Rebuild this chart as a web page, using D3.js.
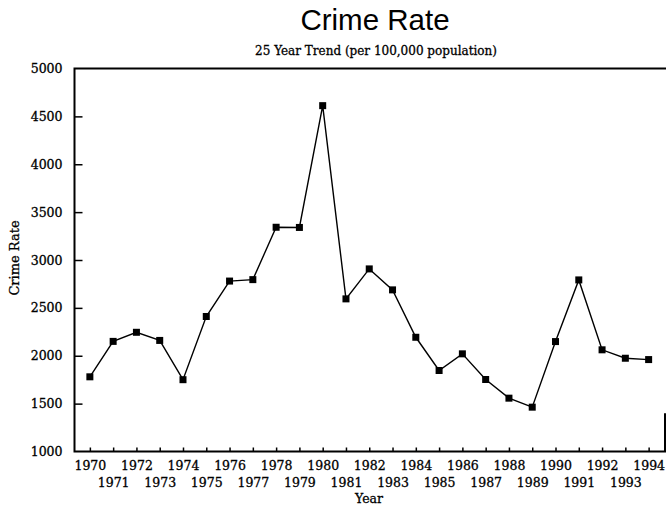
<!DOCTYPE html>
<html lang="en">
<head>
    <meta charset="UTF-8">
    <title>Crime Rate</title>
    <script src="https://d3js.org/d3.v7.min.js"></script>
    <style>
        body {
            margin: 0;
            padding: 0;
            background: #fff;
        }
        svg {
            display: block;
        }
        .serif {
            font-family: "DejaVu Serif", "Liberation Serif", serif;
            fill: #000;
            stroke: #000;
            stroke-width: 0.3px;
        }
        .tick line {
            stroke: #000;
            stroke-width: 1.5px;
        }
    </style>
</head>
<body>
    <div id="chart"></div>
    <script>
        // data
        var years = d3.range(1970, 1995);
        var crimeRate = [1780, 2150, 2245, 2160, 1750, 2410, 2780, 2795, 3342, 3340,
                         4612, 2594, 2907, 2688, 2193, 1846, 2020, 1752, 1557, 1463,
                         2148, 2792, 2062, 1974, 1960];
        var yTicks = [1000, 1500, 2000, 2500, 3000, 3500, 4000, 4500, 5000];

        var w = 666;
        var h = 507;
        var plotLeft = 74.5, plotRight = 665, plotTop = 68.5, plotBottom = 451.5;

        var svg = d3.select("#chart")
            .append("svg")
            .attr("width", w)
            .attr("height", h);

        var x = d3.scalePoint()
            .domain(years)
            .range([plotLeft, plotRight - 1])
            .padding(0.66);

        var y = d3.scaleLinear()
            .domain([1000, 5000])
            .range([plotBottom, plotTop]);

        // titles
        svg.append("text")
            .attr("x", 375)
            .attr("y", 30)
            .attr("text-anchor", "middle")
            .style("font-family", "Arial, 'Liberation Sans', sans-serif")
            .style("font-size", "29.5px")
            .text("Crime Rate");

        svg.append("text")
            .attr("class", "serif")
            .attr("x", 376)
            .attr("y", 55)
            .attr("text-anchor", "middle")
            .style("font-size", "12px")
            .text("25 Year Trend (per 100,000 population)");

        // y axis, ticks pointing into the plot
        var yAxis = svg.append("g")
            .attr("transform", `translate(${plotLeft},0)`)
            .call(d3.axisLeft(y)
                .tickValues(yTicks)
                .tickSize(-8)
                .tickPadding(12)
                .tickFormat(d3.format("d")));
        yAxis.select(".domain").remove();
        yAxis.selectAll(".tick")
            .filter(d => d === 1000 || d === 5000)
            .select("line").remove();
        yAxis.selectAll("text")
            .attr("class", "serif")
            .style("font-size", "12.5px")
            .attr("fill", "#000");

        // x axis, ticks pointing up, labels on two rows
        var xAxis = svg.append("g")
            .attr("transform", `translate(0,${plotBottom})`)
            .call(d3.axisBottom(x)
                .tickSize(-4)
                .tickPadding(10));
        xAxis.select(".domain").remove();
        xAxis.selectAll("text")
            .attr("class", "serif")
            .style("font-size", "12.5px")
            .attr("fill", "#000")
            .attr("dy", (d, i) => i % 2 === 0 ? "0.71em" : "2em");

        // frame (right edge only shows near the bottom in the scan)
        svg.append("path")
            .attr("d", `M${plotRight + 1},${plotTop} H${plotLeft} V${plotBottom} H${plotRight} V${y(1400)}`)
            .attr("fill", "none")
            .attr("stroke", "#000")
            .attr("stroke-width", 2);

        // axis titles
        svg.append("text")
            .attr("class", "serif")
            .attr("transform", "translate(19,258) rotate(-90)")
            .attr("text-anchor", "middle")
            .style("font-size", "13px")
            .text("Crime Rate");

        svg.append("text")
            .attr("class", "serif")
            .attr("x", 369)
            .attr("y", 503)
            .attr("text-anchor", "middle")
            .style("font-size", "12.5px")
            .text("Year");

        // line and markers
        var line = d3.line()
            .x((d, i) => x(years[i]))
            .y(d => y(d));

        svg.append("path")
            .datum(crimeRate)
            .attr("d", line)
            .attr("fill", "none")
            .attr("stroke", "#000")
            .attr("stroke-width", 1.4);

        svg.append("g")
            .selectAll("rect")
            .data(crimeRate)
            .enter()
            .append("rect")
            .attr("x", (d, i) => x(years[i]) - 3.5)
            .attr("y", d => y(d) - 3.5)
            .attr("width", 7)
            .attr("height", 7)
            .attr("fill", "#000");
    </script>
</body>
</html>
